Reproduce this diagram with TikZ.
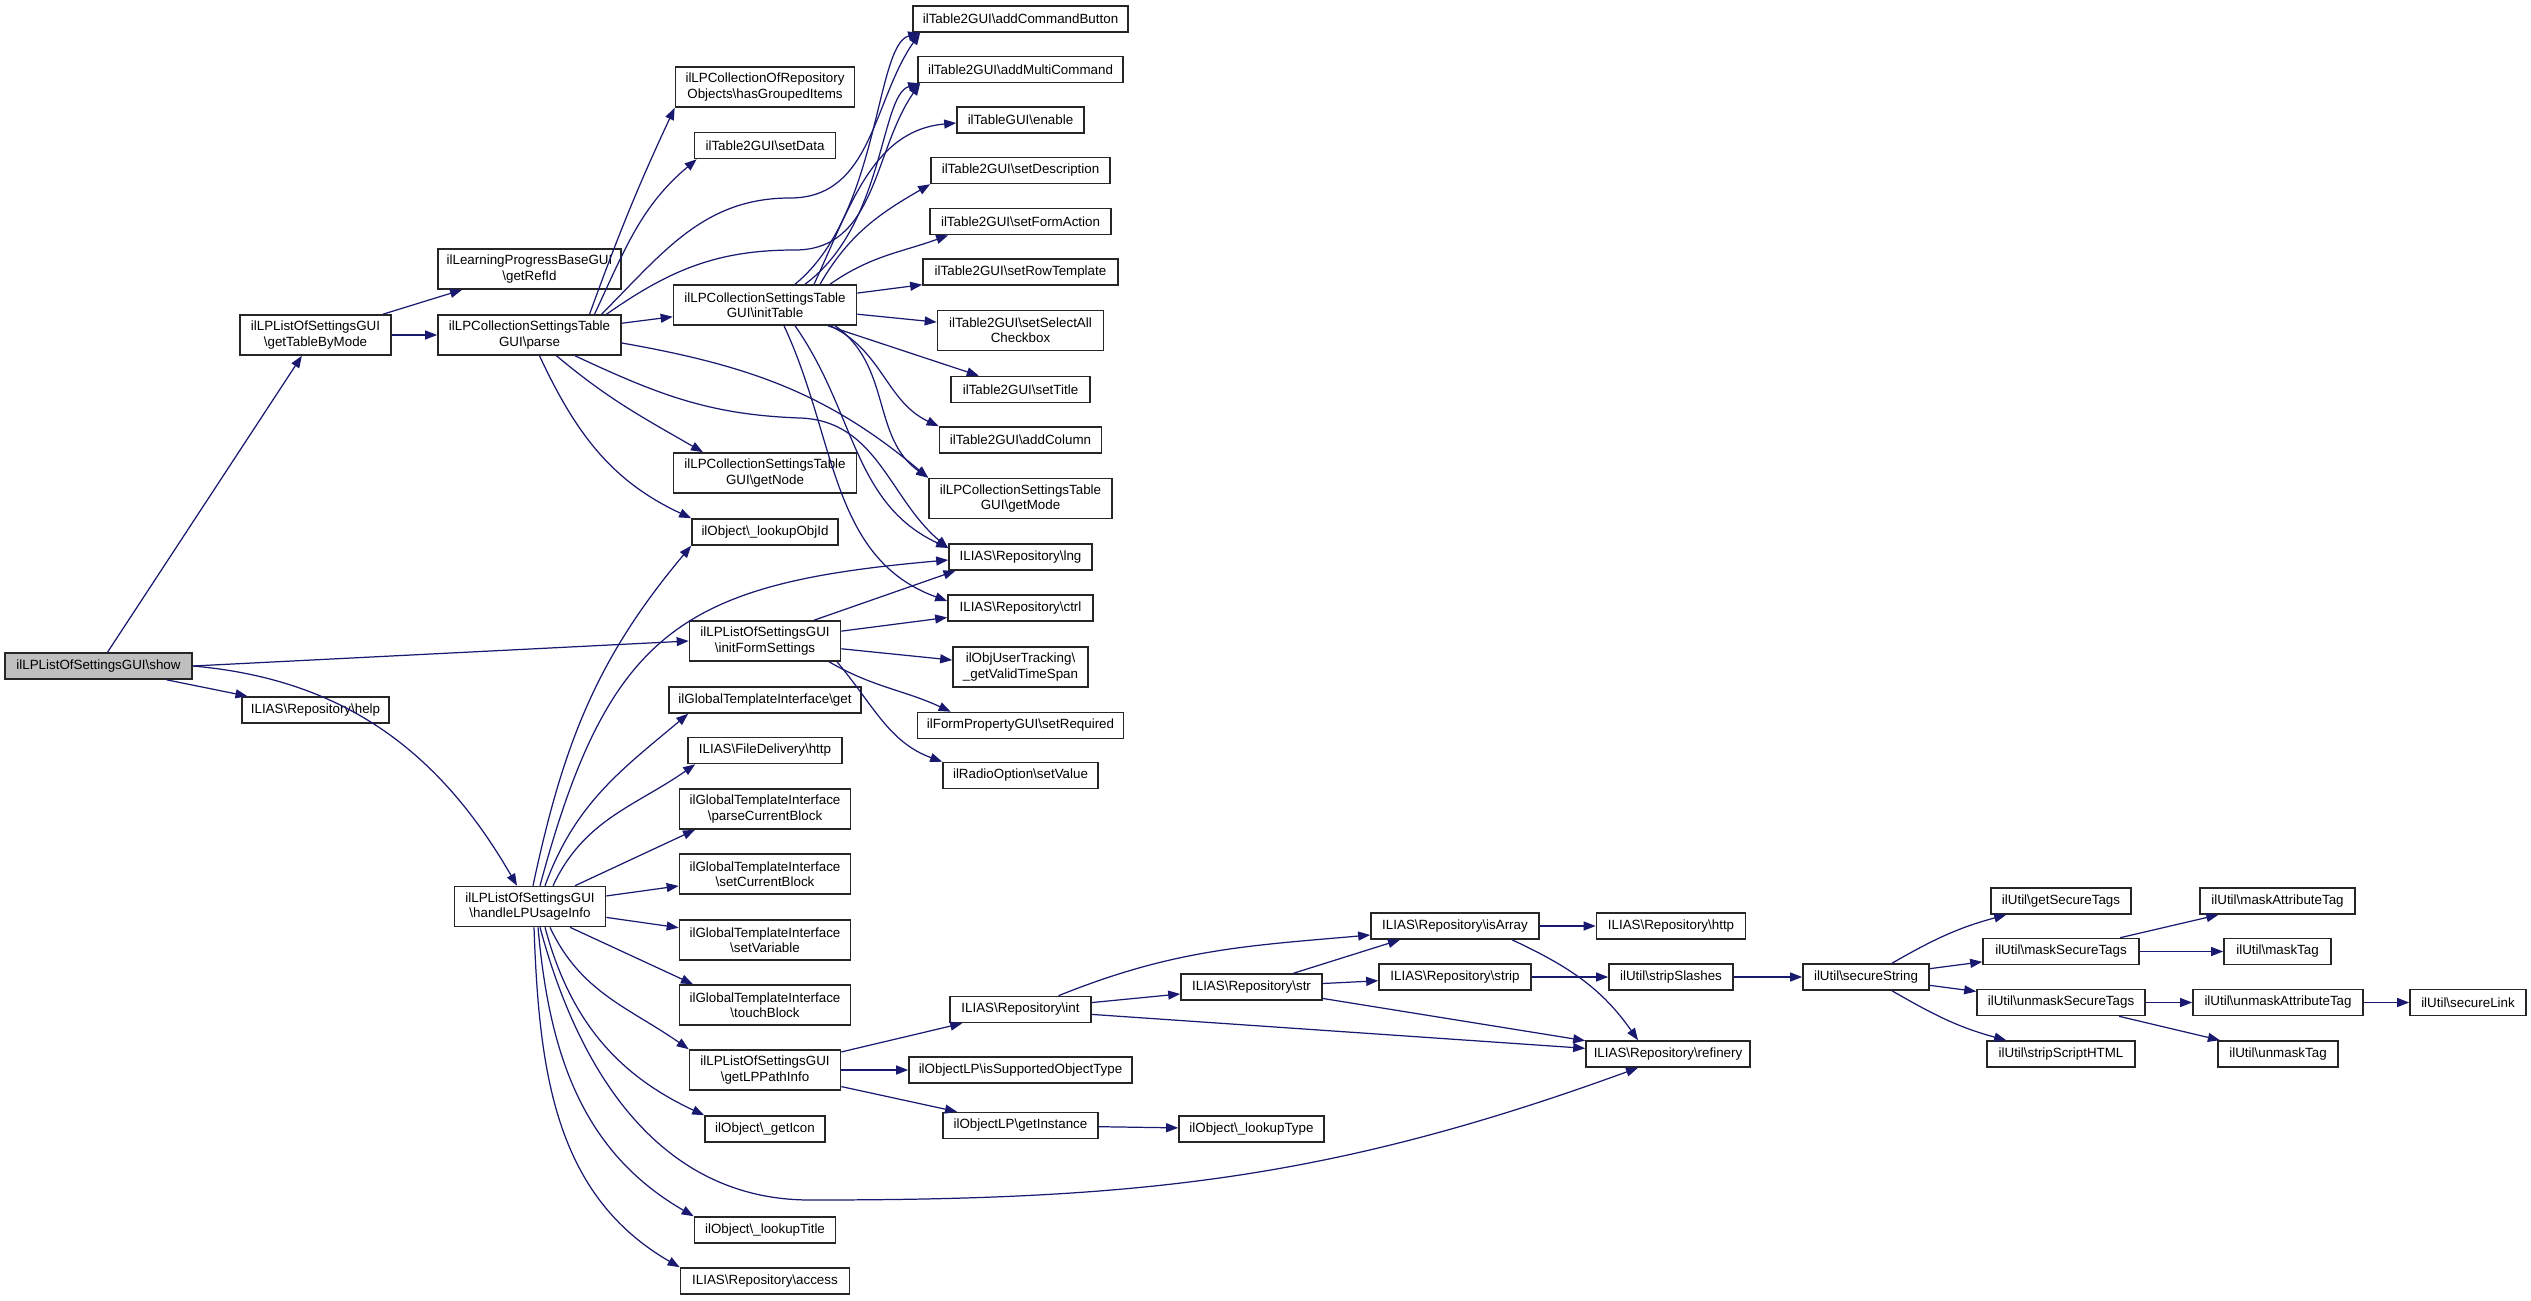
\documentclass[tikz,border=0pt]{standalone}
\usepackage{fontspec}
\setmainfont{Liberation Sans}
\usetikzlibrary{arrows.meta}
\definecolor{edgeblue}{HTML}{191970}
\newcommand{\bs}{\textbackslash}
\newcommand{\fnsize}{\fontsize{3.8pt}{4.3pt}\selectfont}
\tikzset{
  fn/.style={draw=black!85, line width=0.45pt, fill=white, inner xsep=0.5pt, inner ysep=0pt, minimum height=0.26cm, minimum width=#1cm, align=center, font=\fnsize},
  fntwo/.style={fn=#1, minimum height=0.40cm},
  focus/.style={fn=#1, fill=black!25},
  arr/.style={-{Triangle[length=0.12cm, width=0.09cm]}, draw=edgeblue, line width=0.35pt}
}
\begin{document}
\begin{tikzpicture}[x=0.01cm, y=0.01cm]
\useasboundingbox (0,0) rectangle (2531,-1300);
\node[focus=1.87] (show) at (98.5,-666) {ilLPListOfSettingsGUI\bs show};
\node[fntwo=1.51] (tableByMode) at (315.5,-335) {ilLPListOfSettingsGUI\\\bs getTableByMode};
\node[fn=1.47] (help) at (315.5,-710) {ILIAS\bs Repository\bs help};
\node[fntwo=1.83] (refId) at (529.5,-269) {ilLearningProgressBaseGUI\\\bs getRefId};
\node[fntwo=1.83] (parse) at (529.5,-335) {ilLPCollectionSettingsTable\\GUI\bs parse};
\node[fntwo=1.51] (usageInfo) at (530,-906.5) {ilLPListOfSettingsGUI\\\bs handleLPUsageInfo};
\node[fntwo=1.79] (groupedItems) at (765,-87) {ilLPCollectionOfRepository\\Objects\bs hasGroupedItems};
\node[fn=1.41] (setData) at (765,-145.5) {ilTable2GUI\bs setData};
\node[fntwo=1.83] (initTable) at (765,-305) {ilLPCollectionSettingsTable\\GUI\bs initTable};
\node[fntwo=1.83] (getNode) at (765,-473) {ilLPCollectionSettingsTable\\GUI\bs getNode};
\node[fn=1.46] (lookupObjId) at (765,-532) {ilObject\bs \_lookupObjId};
\node[fntwo=1.51] (formSettings) at (765,-641) {ilLPListOfSettingsGUI\\\bs initFormSettings};
\node[fn=1.92] (tplGet) at (765,-700) {ilGlobalTemplateInterface\bs get};
\node[fn=1.54] (fdHttp) at (765,-750.5) {ILIAS\bs FileDelivery\bs http};
\node[fntwo=1.71] (parseBlock) at (765,-809) {ilGlobalTemplateInterface\\\bs parseCurrentBlock};
\node[fntwo=1.71] (setBlock) at (765,-874) {ilGlobalTemplateInterface\\\bs setCurrentBlock};
\node[fntwo=1.71] (setVariable) at (765,-940) {ilGlobalTemplateInterface\\\bs setVariable};
\node[fntwo=1.71] (touchBlock) at (765,-1005) {ilGlobalTemplateInterface\\\bs touchBlock};
\node[fntwo=1.51] (pathInfo) at (765,-1070) {ilLPListOfSettingsGUI\\\bs getLPPathInfo};
\node[fn=1.20] (getIcon) at (765,-1129) {ilObject\bs \_getIcon};
\node[fn=1.41] (lookupTitle) at (765,-1230) {ilObject\bs \_lookupTitle};
\node[fn=1.69] (access) at (765,-1281) {ILIAS\bs Repository\bs access};
\node[fn=2.15] (cmdButton) at (1020.5,-19) {ilTable2GUI\bs addCommandButton};
\node[fn=2.05] (multiCmd) at (1020.5,-69.5) {ilTable2GUI\bs addMultiCommand};
\node[fn=1.27] (enable) at (1020.5,-120) {ilTableGUI\bs enable};
\node[fn=1.79] (setDesc) at (1020.5,-170.5) {ilTable2GUI\bs setDescription};
\node[fn=1.81] (formAction) at (1020.5,-221.5) {ilTable2GUI\bs setFormAction};
\node[fn=1.95] (rowTpl) at (1020.5,-272) {ilTable2GUI\bs setRowTemplate};
\node[fntwo=1.66] (selectAll) at (1020.5,-330.5) {ilTable2GUI\bs setSelectAll\\Checkbox};
\node[fn=1.39] (setTitle) at (1020.5,-389.5) {ilTable2GUI\bs setTitle};
\node[fn=1.62] (addColumn) at (1020.5,-440) {ilTable2GUI\bs addColumn};
\node[fntwo=1.83] (getMode) at (1020.5,-498.5) {ilLPCollectionSettingsTable\\GUI\bs getMode};
\node[fn=1.43] (lng) at (1020.5,-557) {ILIAS\bs Repository\bs lng};
\node[fn=1.45] (ctrl) at (1020.5,-608) {ILIAS\bs Repository\bs ctrl};
\node[fntwo=1.35] (timeSpan) at (1020.5,-667) {ilObjUserTracking\bs\\\_getValidTimeSpan};
\node[fn=2.06] (setRequired) at (1020.5,-725.5) {ilFormPropertyGUI\bs setRequired};
\node[fn=1.55] (setValue) at (1020.5,-775.5) {ilRadioOption\bs setValue};
\node[fn=1.41] (repoInt) at (1020.5,-1009.5) {ILIAS\bs Repository\bs int};
\node[fn=2.23] (supported) at (1020.5,-1070) {ilObjectLP\bs isSupportedObjectType};
\node[fn=1.55] (getInstance) at (1020.5,-1125.5) {ilObjectLP\bs getInstance};
\node[fn=1.41] (str) at (1251.5,-987) {ILIAS\bs Repository\bs str};
\node[fn=1.45] (lookupType) at (1251.5,-1129) {ilObject\bs \_lookupType};
\node[fn=1.68] (isArray) at (1455,-926) {ILIAS\bs Repository\bs isArray};
\node[fn=1.52] (strip) at (1455,-977) {ILIAS\bs Repository\bs strip};
\node[fn=1.49] (http) at (1671,-926) {ILIAS\bs Repository\bs http};
\node[fn=1.24] (stripSlashes) at (1671,-977) {ilUtil\bs stripSlashes};
\node[fn=1.64] (refinery) at (1668,-1054) {ILIAS\bs Repository\bs refinery};
\node[fn=1.26] (secureString) at (1866,-977) {ilUtil\bs secureString};
\node[fn=1.40] (getTags) at (2061,-901) {ilUtil\bs getSecureTags};
\node[fn=1.56] (maskTags) at (2061,-951.5) {ilUtil\bs maskSecureTags};
\node[fn=1.68] (unmaskTags) at (2061,-1002.5) {ilUtil\bs unmaskSecureTags};
\node[fn=1.48] (stripHTML) at (2061,-1054) {ilUtil\bs stripScriptHTML};
\node[fn=1.55] (maskAttr) at (2277.5,-901) {ilUtil\bs maskAttributeTag};
\node[fn=1.07] (maskTag) at (2277.5,-951.5) {ilUtil\bs maskTag};
\node[fn=1.70] (unmaskAttr) at (2278,-1002.5) {ilUtil\bs unmaskAttributeTag};
\node[fn=1.20] (unmaskTag) at (2278,-1054) {ilUtil\bs unmaskTag};
\node[fn=1.16] (secureLink) at (2468,-1002.5) {ilUtil\bs secureLink};
\draw[arr] (show) -- (tableByMode);
\draw[arr] (show) -- (help);
\draw[arr] (show.east) -- (formSettings.west);
\draw[arr] (show.east) to[out=-5, in=120] ([xshift=-0.13cm]usageInfo.north);
\draw[arr] (tableByMode) -- (refId);
\draw[arr] (tableByMode) -- (parse);
\draw[arr] (parse) -- (initTable);
\draw[arr] ([xshift=0.6cm]parse.north) to[out=70, in=245] (groupedItems.south west);
\draw[arr] ([xshift=0.65cm]parse.north) to[out=65, in=220] ([xshift=0.03cm]setData.south west);
\draw[arr] ([xshift=0.72cm]parse.north) to[out=45, in=180] (790,-198) to[out=0, in=235] ([xshift=0.08cm]cmdButton.south west);
\draw[arr] ([xshift=0.77cm]parse.north) to[out=35, in=180] (795,-250) to[out=0, in=235] ([xshift=0.03cm]multiCmd.south west);
\draw[arr] ([yshift=-0.08cm]parse.east) to[out=-10, in=140] (getMode.north west);
\draw[arr] ([xshift=0.455cm]parse.south) to[out=-25, in=178] (800,-418) to[out=-2, in=140] ([yshift=0.09cm]lng.west);
\draw[arr] ([xshift=0.27cm]parse.south) to[out=-40, in=150] ([xshift=-0.62cm]getNode.north);
\draw[arr] ([xshift=0.1cm]parse.south) to[out=-65, in=155] (lookupObjId.north west);
\draw[arr] ([xshift=0.3cm]initTable.north) .. controls (880,-215) and (875,-45) .. ([xshift=0.08cm]cmdButton.south west);
\draw[arr] ([xshift=0.4cm]initTable.north) .. controls (885,-225) and (880,-95) .. ([xshift=0.03cm]multiCmd.south west);
\draw[arr] ([xshift=0.49cm]initTable.north) to[out=65, in=185] ([yshift=-0.03cm]enable.west);
\draw[arr] ([xshift=0.55cm]initTable.north) to[out=60, in=210] (setDesc.south west);
\draw[arr] ([xshift=0.65cm]initTable.north) to[out=35, in=200] ([xshift=0.19cm]formAction.south west);
\draw[arr] (initTable) -- (rowTpl);
\draw[arr] (initTable) -- (selectAll);
\draw[arr] (initTable) -- (setTitle);
\draw[arr] ([xshift=0.65cm]initTable.south) to[out=-25, in=155] (addColumn.north west);
\draw[arr] ([xshift=0.7cm]initTable.south) to[out=-35, in=145] (getMode.north west);
\draw[arr] ([xshift=0.3cm]initTable.south) to[out=-55, in=155] ([yshift=0.09cm]lng.west);
\draw[arr] ([xshift=0.19cm]initTable.south) to[out=-65, in=160] ([yshift=0.07cm]ctrl.west);
\draw[arr] ([xshift=0.03cm]usageInfo.north) to[out=78, in=230] (lookupObjId.south west);
\draw[arr] ([xshift=0.1cm]usageInfo.north) to[out=75, in=185, looseness=1.3] ([yshift=-0.03cm]lng.west);
\draw[arr] ([xshift=0.15cm]usageInfo.north) to[out=70, in=220] ([xshift=0.2cm]tplGet.south west);
\draw[arr] ([xshift=0.23cm]usageInfo.north) to[out=65, in=215] ([xshift=0.08cm]fdHttp.south west);
\draw[arr] ([xshift=0.45cm]usageInfo.north) -- ([xshift=-0.7cm]parseBlock.south);
\draw[arr] (usageInfo) -- (setBlock);
\draw[arr] (usageInfo) -- (setVariable);
\draw[arr] ([xshift=0.4cm]usageInfo.south) -- ([xshift=-0.72cm]touchBlock.north);
\draw[arr] ([xshift=0.2cm]usageInfo.south) to[out=-65, in=145] (pathInfo.north west);
\draw[arr] ([xshift=0.15cm]usageInfo.south) to[out=-75, in=155] (getIcon.north west);
\draw[arr] ([xshift=0.1cm]usageInfo.south) to[out=-75, in=180] (810,-1200) to[out=0, in=200] ([xshift=-0.3cm]refinery.south);
\draw[arr] ([xshift=0.08cm]usageInfo.south) to[out=-85, in=150] (lookupTitle.north west);
\draw[arr] ([xshift=0.04cm]usageInfo.south) to[out=-88, in=150] (access.north west);
\draw[arr] ([xshift=0.49cm]formSettings.north) -- ([xshift=-0.65cm]lng.south);
\draw[arr] (formSettings) -- (ctrl);
\draw[arr] (formSettings) -- (timeSpan);
\draw[arr] ([xshift=0.64cm]formSettings.south) to[out=-30, in=155] ([xshift=0.34cm]setRequired.north west);
\draw[arr] ([xshift=0.72cm]formSettings.south) to[out=-50, in=160] (setValue.north west);
\draw[arr] (pathInfo) -- (repoInt);
\draw[arr] (pathInfo) -- (supported);
\draw[arr] (pathInfo) -- (getInstance);
\draw[arr] (getInstance) -- (lookupType);
\draw[arr] (repoInt) -- (str);
\draw[arr] ([xshift=0.38cm]repoInt.north) to[out=22, in=185] ([yshift=-0.09cm]isArray.west);
\draw[arr] (repoInt) -- (refinery);
\draw[arr] ([xshift=0.42cm]str.north) -- ([xshift=-0.55cm]isArray.south);
\draw[arr] (str) -- (strip);
\draw[arr] (str) -- (refinery);
\draw[arr] (isArray) -- (http);
\draw[arr] ([xshift=0.57cm]isArray.south) to[out=-25, in=125] ([xshift=-0.3cm]refinery.north);
\draw[arr] (strip) -- (stripSlashes);
\draw[arr] (stripSlashes) -- (secureString);
\draw[arr] ([xshift=0.26cm]secureString.north) to[out=30, in=195] ([xshift=0.16cm]getTags.south west);
\draw[arr] (secureString) -- (maskTags);
\draw[arr] (secureString) -- (unmaskTags);
\draw[arr] ([xshift=0.26cm]secureString.south) to[out=-30, in=165] ([xshift=0.2cm]stripHTML.north west);
\draw[arr] (maskTags) -- (maskAttr);
\draw[arr] (maskTags) -- (maskTag);
\draw[arr] (unmaskTags) -- (unmaskAttr);
\draw[arr] (unmaskTags) -- (unmaskTag);
\draw[arr] (unmaskAttr) -- (secureLink);
\end{tikzpicture}
\end{document}
